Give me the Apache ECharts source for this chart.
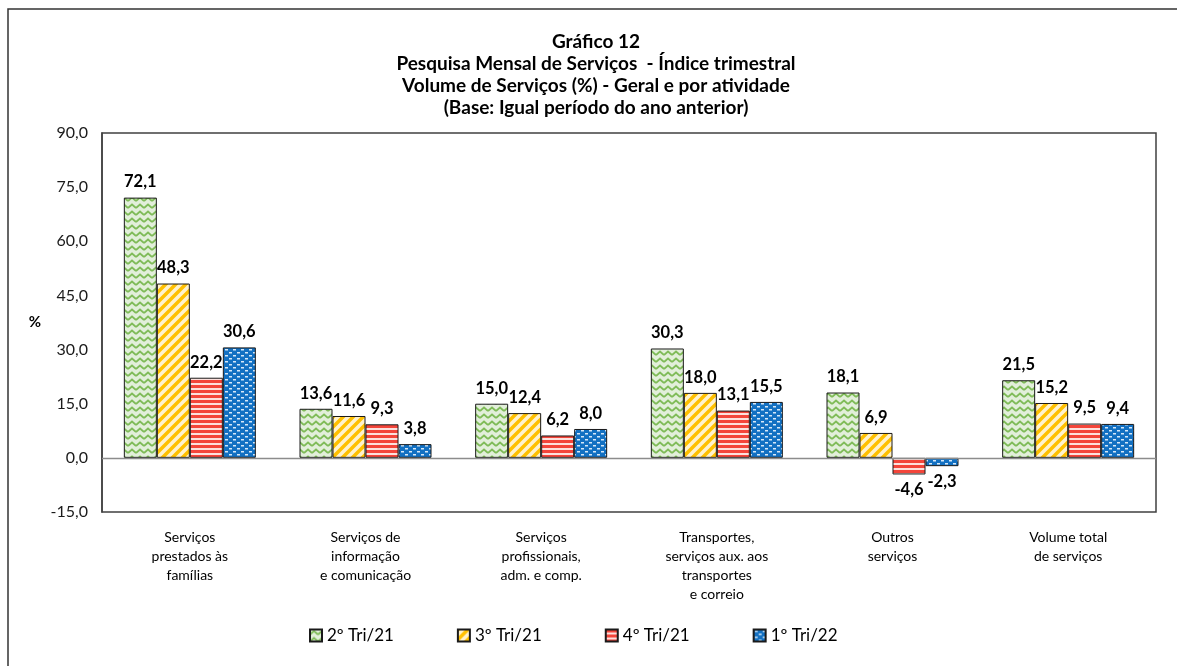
<!DOCTYPE html>
<html>
<head>
<meta charset="utf-8">
<script src="https://cdn.jsdelivr.net/npm/echarts@6/dist/echarts.min.js"></script>
<style>
  html, body { margin: 0; padding: 0; background: #fff; }
  #chart { width: 1177px; height: 666px; }
</style>
</head>
<body>
<div id="chart"></div>
<script>
// dados
var categories = [
  'Serviços\nprestados às\nfamílias',
  'Serviços de\ninformação\ne comunicação',
  'Serviços\nprofissionais,\nadm. e comp.',
  'Transportes,\nserviços aux. aos\ntransportes\ne correio',
  'Outros\nserviços',
  'Volume total\nde serviços'
]
var seriesNames = ['2º Tri/21', '3º Tri/21', '4º Tri/21', '1º Tri/22']
var tri2_21 = [72.1, 13.6, 15.0, 30.3, 18.1, 21.5]
var tri3_21 = [48.3, 11.6, 12.4, 18.0, 6.9, 15.2]
var tri4_21 = [22.2, 9.3, 6.2, 13.1, -4.6, 9.5]
var tri1_22 = [30.6, 3.8, 8.0, 15.5, -2.3, 9.4]
var yTicks = [-15, 0, 15, 30, 45, 60, 75, 90]

var font = 'Lato, "Open Sans", sans-serif'

// padrões de preenchimento (parecidos com os do Excel)
function makeCanvas(w, h, draw) {
  var c = document.createElement('canvas')
  c.width = w
  c.height = h
  draw(c.getContext('2d'))
  return c
}

var greenWave = makeCanvas(8, 7, function (ctx) {
  ctx.fillStyle = '#e2efda'
  ctx.fillRect(0, 0, 8, 7)
  ctx.strokeStyle = '#7fbb58'
  ctx.lineWidth = 1.7
  ctx.beginPath()
  ctx.moveTo(0, 5)
  ctx.lineTo(4, 1.5)
  ctx.lineTo(8, 5)
  ctx.stroke()
})

var yellowDiag = makeCanvas(10, 10, function (ctx) {
  ctx.fillStyle = '#fff2cc'
  ctx.fillRect(0, 0, 10, 10)
  ctx.strokeStyle = '#ffc000'
  ctx.lineWidth = 3.5
  ctx.beginPath()
  ctx.moveTo(-2, 12); ctx.lineTo(12, -2)
  ctx.moveTo(-7, 7); ctx.lineTo(7, -7)
  ctx.moveTo(3, 17); ctx.lineTo(17, 3)
  ctx.stroke()
})

var redStripes = makeCanvas(4, 5, function (ctx) {
  ctx.fillStyle = '#fde0dc'
  ctx.fillRect(0, 0, 4, 5)
  ctx.fillStyle = '#f3453a'
  ctx.fillRect(0, 0, 4, 3)
})

var blueDash = makeCanvas(8, 6, function (ctx) {
  ctx.fillStyle = '#1270c2'
  ctx.fillRect(0, 0, 8, 6)
  ctx.fillStyle = '#d6e8f8'
  ctx.fillRect(1, 1, 3, 1.5)
  ctx.fillRect(5, 4, 3, 1.5)
})

var fills = [greenWave, yellowDiag, redStripes, blueDash]
var allData = [tri2_21, tri3_21, tri4_21, tri1_22]

function fmt(v) {
  return v.toFixed(1).replace('.', ',')
}

var series = allData.map(function (arr, i) {
  var s = {
    name: seriesNames[i],
    type: 'bar',
    barWidth: 33,
    barGap: '0%',
    itemStyle: {
      color: { image: fills[i], repeat: 'repeat' },
      borderColor: '#1a1a1a',
      borderWidth: 1
    },
    label: {
      show: true,
      position: 'top',
      distance: 7,
      fontFamily: font,
      fontWeight: 'bold',
      fontSize: 16.5,
      color: '#000',
      formatter: function (p) { return fmt(p.value) }
    },
    data: arr.map(function (v) {
      if (v < 0) {
        return { value: v, label: { position: 'bottom' } }
      }
      return v
    })
  }
  if (i === 0) {
    // linha do zero
    s.markLine = {
      silent: true,
      symbol: 'none',
      label: { show: false },
      lineStyle: { color: '#8c8c8c', width: 1.3, type: 'solid' },
      data: [{ yAxis: 0 }],
      animation: false
    }
  }
  return s
})

var chart = echarts.init(document.getElementById('chart'))
chart.setOption({
  animation: false,
  textStyle: { fontFamily: font },
  title: {
    text: 'Gráfico 12\nPesquisa Mensal de Serviços  - Índice trimestral\nVolume de Serviços (%) - Geral e por atividade\n(Base: Igual período do ano anterior)',
    left: 591,
    top: 26,
    textAlign: 'center',
    textStyle: {
      fontFamily: font,
      fontWeight: 'bold',
      fontSize: 19,
      lineHeight: 22,
      color: '#000'
    }
  },
  legend: {
    data: seriesNames,
    left: 304,
    top: 622,
    itemWidth: 12,
    itemHeight: 12,
    itemGap: 63,
    icon: 'rect',
    textStyle: { fontFamily: font, fontSize: 17, color: '#000' }
  },
  grid: {
    left: 102,
    right: 21,
    top: 133,
    bottom: 154,
    show: true,
    borderColor: '#404040',
    borderWidth: 1.5,
    backgroundColor: 'transparent'
  },
  xAxis: {
    type: 'category',
    data: categories,
    axisLine: { show: false, onZero: false },
    axisTick: { show: false },
    axisLabel: {
      margin: 16,
      fontFamily: font,
      fontSize: 14,
      lineHeight: 19,
      color: '#000',
      interval: 0
    }
  },
  yAxis: {
    type: 'value',
    min: yTicks[0],
    max: yTicks[yTicks.length - 1],
    interval: 15,
    name: '%',
    nameLocation: 'middle',
    nameRotate: 0,
    nameGap: 61,
    nameTextStyle: { fontFamily: font, fontWeight: 'bold', fontSize: 15, color: '#000' },
    axisLine: { show: true, lineStyle: { color: '#404040', width: 1.5 } },
    axisTick: { show: false },
    splitLine: { show: false },
    axisLabel: {
      margin: 14,
      fontFamily: font,
      fontSize: 16,
      color: '#1a1a1a',
      formatter: function (v) { return fmt(v) }
    }
  },
  graphic: [{
    type: 'rect',
    shape: { x: 8, y: 9, width: 2000, height: 2000 },
    style: { fill: 'none', stroke: '#333', lineWidth: 1.5 },
    silent: true
  }],
  series: series
})
</script>
</body>
</html>
